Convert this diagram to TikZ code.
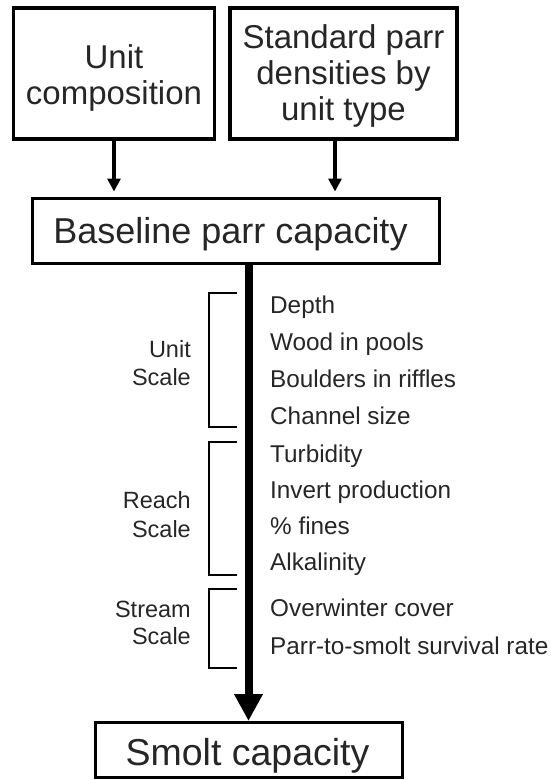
\documentclass[tikz,border=0pt]{standalone}
\usepackage{fontspec}
\setmainfont{Liberation Sans}
\usetikzlibrary{arrows.meta}
\begin{document}
\begin{tikzpicture}[x=1pt,y=-1pt,
  boxshape/.style={draw=black, inner sep=0pt},
  topbox/.style={boxshape, line width=3.5pt},
  midbox/.style={boxshape, line width=3pt},
  boxlabel/.style={text=black!85, align=center, inner sep=0pt, font=\fontsize{33}{36}\selectfont},
  biglabel/.style={text=black!85, inner sep=0pt, anchor=base},
  listtxt/.style={anchor=base west, inner sep=0pt, text=black!85, font=\fontsize{24.3}{26}\selectfont},
  scaletxt/.style={anchor=base east, inner sep=0pt, text=black!85, font=\fontsize{23.5}{26}\selectfont},
  smallarrow/.style={line width=3.5pt, -{Triangle[width=13pt,length=13pt]}},
  bigarrow/.style={line width=8pt, -{Triangle[width=27pt,length=27pt]}},
  bracketline/.style={line width=1.6pt, line cap=butt}
]
\useasboundingbox (0,0) rectangle (550,780);

% boxes
\node[topbox, minimum width=201pt, minimum height=131pt] (uc) at (114,73.5) {};
\node[boxlabel] (uct) at ([yshift=-4pt]uc.center) {Unit\\composition};
\node[topbox, minimum width=227pt, minimum height=131pt] (sp) at (343.5,73.5) {};
\node[boxlabel] (spt) at ([yshift=-2pt]sp.center) {Standard parr\\densities by\\unit type};
\node[midbox, minimum width=407pt, minimum height=65pt] (bp) at (235.5,230.5) {};
\node[biglabel, font=\fontsize{36}{40}\selectfont] (bpt) at (230.5,243) {Baseline parr capacity};
\node[midbox, minimum width=307pt, minimum height=55pt] (sc) at (248.5,750) {};
\node[biglabel, font=\fontsize{37.5}{40}\selectfont] (sct) at (247.5,765) {Smolt capacity};

% arrows into baseline
\draw[smallarrow, shorten >=5pt] (uc.south) -- (uc.south |- bp.north);
\draw[smallarrow, shorten >=5pt] ([xshift=-8.5pt]sp.south) -- ([xshift=-8.5pt]sp.south |- bp.north);

% main arrow
\draw[bigarrow] (sc.north |- bp.south) -- (sc.north);

% brackets
\coordinate (u1) at (237,293); \coordinate (u2) at (237,427);
\coordinate (r1) at (237,442); \coordinate (r2) at (237,575);
\coordinate (s1) at (237,589); \coordinate (s2) at (237,668);
\draw[bracketline] (u1) -- ++(-28,0) |- (u2);
\draw[bracketline] (r1) -- ++(-28,0) |- (r2);
\draw[bracketline] (s1) -- ++(-28,0) |- (s2);

% scale labels
\node[scaletxt] (ul) at (191,357) {Unit};
\node[scaletxt] (us) at (191,385) {Scale};
\node[scaletxt] (rl) at (191,508) {Reach};
\node[scaletxt] (rs) at (191,537) {Scale};
\node[scaletxt] (sl) at (191,617) {Stream};
\node[scaletxt] (ss) at (191,644) {Scale};

% factor list
\node[listtxt] (f1) at (270,313) {Depth};
\node[listtxt] (f2) at (270,350) {Wood in pools};
\node[listtxt] (f3) at (270,387) {Boulders in riffles};
\node[listtxt] (f4) at (270,424) {Channel size};
\node[listtxt] (f5) at (270,462) {Turbidity};
\node[listtxt] (f6) at (270,498) {Invert production};
\node[listtxt] (f7) at (270,534) {\% fines};
\node[listtxt] (f8) at (270,570) {Alkalinity};
\node[listtxt] (f9) at (270,616) {Overwinter cover};
\node[listtxt] (f10) at (270,654) {Parr-to-smolt survival rate};
\end{tikzpicture}
\end{document}
